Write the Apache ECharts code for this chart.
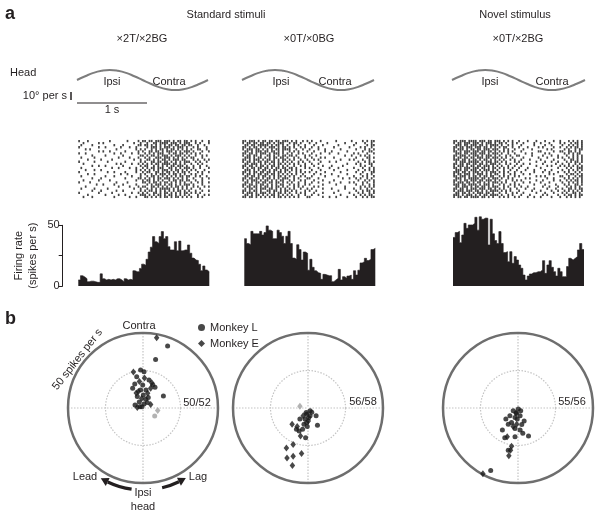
<!DOCTYPE html>
<html>
<head>
<meta charset="utf-8">
<script src="https://cdn.jsdelivr.net/npm/echarts@6/dist/echarts.min.js"></script>
<style>
html, body { margin: 0; padding: 0; background: #fff; }
#main { width: 601px; height: 519px; }
</style>
</head>
<body>
<div id="main"></div>
<script>
// panel titles
var groupTitles = ['Standard stimuli', 'Novel stimulus'];
var panelTitles = ['×2T/×2BG', '×0T/×0BG', '×0T/×2BG'];
var ratioLabels = ['50/52', '56/58', '55/56'];

// head velocity (deg/s) over one cycle
var headTime = [0, 0.125, 0.25, 0.375, 0.5, 0.625, 0.75, 0.875, 1, 1.125, 1.25, 1.375, 1.5, 1.625, 1.75, 1.875, 2];
var headVel = [0, 4.5, 8.5, 11, 12, 11, 8.5, 4.5, 0, -4.5, -8.5, -11, -12, -11, -8.5, -4.5, 0];

// firing rate histograms (spikes per s), 60 bins per cycle
var hist1 = [5, 8.5, 7.5, 6, 3.5, 4, 4, 3.5, 3, 3, 10, 6, 5, 5.5, 5, 5.5, 5, 6, 6, 5,
    3.5, 6, 5, 5.5, 5, 12.6, 11.8, 11.8, 14.5, 18, 17, 22, 28, 32, 40.7, 36.5, 35, 40.7, 44.8, 39,
    40.7, 32.4, 29.7, 29.7, 36.5, 29, 37, 29, 29.7, 29.7, 33.8, 27, 23, 21.4, 21, 17.9, 12.6, 16.5, 13.2, 11.8];
var hist2 = [39, 35, 34, 45, 43, 43, 43, 45, 42, 44, 49.5, 46, 45, 39, 39, 46, 44, 41, 35, 41,
    45, 35, 23, 22, 34, 30, 21.4, 28, 27, 13, 22, 15.4, 12.6, 11, 10.4, 5.5, 9.6, 9, 8.5, 8.5,
    3.6, 5, 6.3, 13.7, 5, 7.7, 6.3, 8.2, 9, 5.5, 12.6, 9, 13, 19, 20, 22.8, 21, 22, 30, 31];
var hist3 = [40, 44, 45, 35.7, 42, 51.6, 47.5, 50.3, 50.3, 51.6, 56.6, 46, 57, 55, 56, 55.8, 33.8, 55, 43, 37.4,
    35, 44.8, 35, 27.5, 28.3, 20, 28.3, 18.7, 24.2, 21.4, 17.3, 14.6, 9, 5, 8.2, 9.9, 11, 11, 11.8, 11.8,
    13.2, 20.9, 10.4, 17.3, 20.9, 15.4, 11.8, 8.2, 14.6, 11.8, 7.7, 7.7, 16, 22.8, 21.4, 22.8, 24.2, 29.7, 35, 30];

// spike rasters: one row per trial, x = spike in that 1/60 cycle bin
var raster1 = [
    'x...x..... ....x..... ..x....x.x x.xx.xxx.x xx.x.xx.xx .x.x..x..x',
    '..x......x .x........ .....x..x. .x..xx.xxx x.xxx.x.xx x..x.x...x',
    '.x....x... ......x... x......xx. xx.x.x.x.x .xx.xx.xx. xx..x..x..',
    'x........x ..x......x ...x..x... .x.xxx.x.x xx.x.xxx.x ..x.x...x.',
    '...x.x.... .......x.. ......x.x. x..x.x.xx. x.xx.x.x.x .x..xx..x.',
    '.........x .x..x..... .x.....x.x ..xx.xx.x. xxx.x.x.xx x.x...x..x',
    'x..x...... ......x..x ....x..x.. x.x.x.xxx. .x.xx.xx.x .x.x.x....',
    '......x... ..x....... x.......xx .x.xx.x.xx x.x.xxx.x. x..x..x.x.',
    '.x.....x.. ........x. ...x...x.. x.x..xxx.x xx.x.x.x.x .xx...x...',
    '....x..... x....x.... .....x..x. .xx.x.x.xx .x.xxx.xx. ..x.x..x.x',
    'x......x.. ...x...... .x......x. x..xx.xx.x x.x.x.x.xx x..x.x..x.',
    '..x....... .......x.x ....x..x.x .x.x.xx.xx xx.xx.x.x. .x..x.x...',
    '......x..x ..x....... x.......x. xx..x.x.x. x.xx.xxx.x ..x..x..x.',
    '.x........ .....x..x. ...x..x..x .x.xx.xxx. .xx.x.x.xx x.x..x...x',
    '...x...x.. x......... ......x.x. x.x.x.x.xx x.x.xx.x.x .x.x...x..',
    'x......... ...x..x... .x....x..x .xx..xx.x. xx.x.x.xx. x...x.x..x',
    '....x..x.. .........x ..x.....x. x..x.x.xxx .x.xx.x.x. .x.x..x...',
    '.x........ ..x...x... ....x...x. .x.xx.x.x. x.x.x.xx.x x..x.x..x.',
    '......x... x......... .x.....xx. x.x.x.xx.x xx.x.x.x.x ..x...x..x',
    '..x......x ....x..... ......x..x .xx.x.x.x. .x.xx.xx.x x..x..x...',
    'x....x.... .......x.. ..x......x x.x.xx.x.x x.x.x.x.x. .x..x.x..x',
    '........x. .x....x... x.....x... .x.x.xxx.x .xx.x.x.xx x.x...x...',
    '...x...... ........x. ...x...x.x x..xx.x.x. x.x.xx.x.x ..x.x..x.x',
    '.x.....x.. ...x...... .....x..x. .x.x.x.xxx xx.x.x.x.x .x...x....',
    '......x... x......x.. x.......x. x.xx.x.x.x .x.x.xx.x. x..x..x..x',
    'x........x .....x.... ....x..x.x .x..xx.x.x x.x.x.x.xx .x.x.x....',
    '....x..... ..x.....x. .x......xx x.x.x.xx.x .xx.x.x.x. x...x..x.x',
    '..x...x... ......x... ...x..x... xx.x.x.x.x x.x.xx.x.x .x..x.x...'
];
var raster2 = [
    'xx.xxx.x.x x.xx.xx.xx x.x.x..x.x .x...x.... ..x......x ....x.x.xx',
    'x.xx.xx.xx .xx.x.xxx. .x.xx.x... x..x....x. ......x... .x...x..x.',
    '.xx.xx.xxx xx.x.xx.x. x..x.x..x. ..x...x... ...x...... x.....x.xx',
    'xx.x.xx.x. x.xxx.x.xx .x.x..x.x. .x..x..... .x......x. ...x.x..x.',
    'x.xxx.xx.x .x.x.xx.xx xx..x..x.. x...x..x.. ....x..... .x...x.x.x',
    '.xx.x.xxx. xx.xx.x.x. .x.x.x...x ..x....x.. x......x.. ....x..xx.',
    'xx.xx.x.xx x.x.xxx.x. x.x..x.x.. .x...x...x ...x...... x.x...x..x',
    'x.xx.xx.x. .xx.x.x.xx .xx.x...x. x..x...... ......x..x ...x.x.x..',
    '.xxx.x.xx. x.x.xx.xx. x..x.x..x. .x...x.x.. .x........ .x....xx.x',
    'xx.x.xxx.x .xx.x.x.xx .x.x..x..x ..x.x..... ....x...x. x...x..x..',
    'x.xx.x.xx. xx.xx.x.x. x.x..x.x.. x....x...x ..x....... ..x..x.x.x',
    '.xx.xxx.x. x.x.x.xx.x .x.x.x..x. .x..x..... .......x.. .x.x...xx.',
    'xx.xx.x.xx .x.xx.x.x. x..x..x.x. ..x...x... x....x.... ...x.x..x.',
    'x.x.xx.xx. xx.x.xx.xx .xx.x...x. x...x....x ...x...... x...x..x.x',
    '.xxx.x.x.x x.x.xx.x.x x.x.x.x... .x...x.... .x.....x.. ..x..x.x.x',
    'xx.x.xx.xx .xx.x.xx.x .x..x.x.x. x..x...x.. ....x..... .x..x...xx',
    'x.xx.x.xx. xx.xx.x.x. x.x.x..x.. ..x..x.... x......x.. ...x..x.x.',
    '.xx.xx.x.x x.x.x.xx.x .x.x..x.x. .x.....x.. ...x...... x...x.x..x',
    'xx.xx.xx.x .xx.x.x.xx x..x.x...x x...x..... .....x..x. .x.x..x.x.',
    'x.x.xxx.x. xx.x.x.xx. .x.x..x.x. ..x...x... .x........ ..x..x.x.x',
    '.xx.x.xx.x x.xx.xx.x. x.x..x..x. .x..x....x ....x...x. x...x.x..x',
    'xx.xx.x.xx .x.x.x.xx. .x.x.x..x. x.....x... ..x....... .x..x..x.x',
    'x.xx.xx.x. xx.x.xx.x. x..x.x.x.. ..x.x..... ......x... ...x.x.x.x',
    '.x.xx.x.xx x.xx.x.x.x .x.x..x..x .x....x... x.....x... x..x..x.x.',
    'xx.x.xx.x. .xx.xx.x.x x.x.x...x. x..x...... ...x...... .x..x.xx.x',
    'x.xxx.x.xx x.x.x.xx.x .x..x.x.x. ..x...x... .x......x. ..x.x..x.x',
    '.xx.x.xx.x .x.xx.x.x. x.x..x..x. .x..x..... ....x..... x..x.x.xx.',
    'xx.xx.x.x. x.x.x.xx.x .x.x.x...x x.....x..x ..x....x.. .x..x.x.xx'
];
var raster3 = [
    'xx.xxx.xxx x.xxx.xx.x xx.x.x.x.. x...x...x. ..x...x..x ...x.x.x.x',
    'x.xx.xxx.x xx.x.xxx.x .xx.x..x.x ..x....x.. x...x....x .x..x.xx.x',
    '.xxx.xx.xx x.xx.x.xxx x.x..x.x.. .x.....x.. ..x..x.... x..x.x.x.x',
    'xx.xx.xxx. xxx.xx.x.x .x.xx..x.. x...x....x .x....x..x ..x.x.xx.x',
    'x.xxx.x.xx .xx.xxx.xx x..x.x..x. ..x...x... ...x.x.... .x.x..x.xx',
    'xx.x.xxx.x xx.xx.xx.x .x.x.x.x.. .x.......x x.....x..x x..xx.x.x.',
    '.xxx.xx.xx x.xxx.x.xx x.x..x..x. ...x..x... ..x.x..... .x.x.x.xx.',
    'xx.xxx.x.x xx.x.xxx.x .x..x.x..x x.....x... .x...x..x. ..x..x.x.x',
    'x.xx.xx.xx .xxx.xx.xx x.x.x..x.. ..x......x ...x....x. x..x.x.x.x',
    'xxx.xx.x.x x.x.xx.x.x .x.x..x.x. .x...x.... x.....x... .x..xx.x.x',
    '.x.xxx.xxx xx.x.xxx.x x.x.x...x. x.......x. ..x..x..x. ..x.x.xx.x',
    'xx.xx.xx.x x.xx.x.xxx .x..x.x..x ..x..x.... .x.....x.. x..x..x.x.',
    'x.xxx.x.xx .xx.xxx.x. x.x..x..x. .x......x. ...x.x...x .x.x.x.x.x',
    'xx.x.xxx.x xx.xx.x.xx .x.x.x.x.. x...x..... x.......x. ..x.x..xxx',
    '.xxx.xx.xx x.x.xxx.x. x..x..x..x ...x...x.. ..x..x.... x..x.x.x.x',
    'xxx.xx.x.x xx.x.x.xxx .x.x.x..x. .x.....x.. .x..x...x. .x.x..x.x.',
    'x.xx.xxx.x .xxx.x.x.x x..x..x.x. ..x..x.... ....x.x... ..x.xx.x.x',
    'xx.xxx.x.x x.x.xx.xx. .x.x.x..x. x.......x. x.x......x x..x..x.xx',
    '.xxx.x.xxx xx.xx.x.xx x.x..x.x.. ...x.x.... ...x..x... .x.x.x.x.x',
    'xx.x.xx.xx x.xx.xxx.x .x..x..x.x .x......x. .x....x..x ..x.x.xx.x',
    'x.xxx.xx.x .xx.x.x.xx x.x.x...x. ..x..x.... x...x..... x..x.x.x.x',
    'xxx.xx.xxx x.x.xxx.x. .x.x..x.x. x......x.. ..x....x.. .x.x..xx.x',
    '.xx.xxx.x. xx.xx.x.xx x..x.x..x. .x..x..... .x..x...x. ..x.x.x.x.',
    'xx.xx.x.xx x.xxx.xx.x .x.x..x..x ...x...x.. ...x...x.. x..xx.x.xx',
    'x.xxx.xxx. xx.x.x.xxx x.x.x.x... x.....x... x....x..x. .x.x.x.x.x',
    '.xx.xx.x.x .xxx.xx.x. .x..x..x.x ..x.....x. ..x...x... x.x..xx.x.',
    'xxx.x.xxx. x.x.xx.xxx x.x..x.x.. .x...x.... .x.x....x. .x.xx.x.xx',
    'x.xx.xx.xx xx.xx.x.x. .x.x.x..x. x...x..x.. x....x...x ..x.x.x.x.'
];

// preferred response vectors (spikes per s): x = lead(-)/lag(+), y = contra(+)/ipsi(-)
var monkeyL1 = [[16.4, 41.3], [8.4, 32.4], [-1.6, 25.3], [0.7, 24.2], [-4.2, 20.9], [4, 18.7], [8, 13.8],
    [-6.9, 13.1], [-1.6, 12], [2, 12], [0.2, 8.7], [-3.8, 7.6], [1.8, 5.8], [-5.3, 2], [-2, 0.9], [2.9, 3.6],
    [13.6, 8], [-0.2, 15.3], [0.7, 2.7], [-0.7, 0.9], [-5.5, 16], [6.5, 15.5], [-2.5, 4], [3.5, 7]];
var monkeyE1 = [[9.1, 46.9], [-6.4, 24], [5.8, 16.9], [-2.4, 17.6], [5.1, 13.1], [3.1, 9.8], [-0.9, 6.4],
    [-3.8, 0.4], [5.1, 2.4], [-3.1, 11], [1, 20], [-4.5, 10]];
var grayL1 = [[7.8, -5.3]];
var grayE1 = [[9.8, -1.6]];

var monkeyL2 = [[1.4, -1.8], [-0.9, -4.1], [1.4, -5.2], [5.4, -5.2], [-2, -7.4], [-5.4, -7.4], [6.3, -11.5],
    [-2.7, -10.8], [-0.5, -12.4], [-5.9, -15.3], [-3.6, -14.2], [-1.6, -19.8], [-7.7, -14.2], [2.5, -2.9],
    [-0.9, -9.7], [0.5, -6.5], [-1.2, -3]];
var monkeyE2 = [[-3.2, -5.2], [0.2, -8.6], [-10.6, -10.8], [-7.2, -12.4], [-5, -18.7], [-9.9, -24.3],
    [-14.4, -26.6], [-4.3, -30.4], [-14, -33.3], [-9.9, -32.2], [-10.4, -38.3]];
var grayL2 = [];
var grayE2 = [[-5.4, 1.1]];

var monkeyL3 = [[-3.2, -1.8], [0.2, -0.7], [1.8, -1.8], [-5.4, -5.2], [-8.1, -7.4], [-2, -6.3], [1.4, -5.2],
    [4.1, -8.6], [-4.3, -9.7], [-6.5, -10.8], [-10.4, -14.6], [-2, -13.7], [1.4, -14.6], [3.2, -16.9],
    [7, -18.7], [-8.8, -19.8], [-2, -19.1], [-6.5, -28.2], [-18.2, -41.7], [-0.5, -7.4], [-1, -3.5], [2.5, -11]];
var monkeyE3 = [[-1.4, -3.4], [-0.9, -10.8], [-7.2, -19.1], [-4.3, -25.5], [-5, -28.2], [-6.1, -31.8],
    [-23.4, -43.9], [-3.2, -12.4]];
var grayL3 = [];
var grayE3 = [];

var FONT = '"Liberation Sans", Arial, Helvetica, sans-serif';
var INK = '#231f20';

var headLeft = [77, 242, 452], headWidth = [131, 132, 133];
var rasterLeft = [78, 242, 453], rasterWidth = [132, 133, 130];
var histLeft = [78.3, 244.3, 453], histWidth = [131, 131, 131];
var histMax = [50, 50, 60];
var histScale = 1.214; // px per spike/s
var polarX = [143, 308, 518], polarY = 408, polarR = 75;

var hists = [hist1, hist2, hist3];
var rasters = [raster1, raster2, raster3];
var dotsL = [monkeyL1, monkeyL2, monkeyL3];
var dotsE = [monkeyE1, monkeyE2, monkeyE3];
var grayL = [grayL1, grayL2, grayL3];
var grayE = [grayE1, grayE2, grayE3];

function parseRaster(rows) {
    var pts = [];
    rows.forEach(function (r, row) {
        var s = r.replace(/ /g, '');
        for (var c = 0; c < s.length; c++) {
            if (s[c] === 'x') pts.push([c, row]);
        }
    });
    return pts;
}

// bin k covers [k, k+1]; last value repeated to close the final step
function histSteps(h) {
    var d = h.map(function (v, k) { return [k, v]; });
    d.push([h.length, h[h.length - 1]]);
    return d;
}

var grid = [], xAxis = [], yAxis = [], series = [];
var polar = [], angleAxis = [], radiusAxis = [];

for (var p = 0; p < 3; p++) {
    // head velocity trace
    grid.push({ left: headLeft[p], width: headWidth[p], top: 70, height: 20 });
    xAxis.push({ type: 'value', gridIndex: grid.length - 1, min: 0, max: 2, show: false });
    yAxis.push({ type: 'value', gridIndex: grid.length - 1, min: -12, max: 12, show: false });
    series.push({
        type: 'line', xAxisIndex: grid.length - 1, yAxisIndex: grid.length - 1,
        data: headTime.map(function (t, k) { return [t, headVel[k]]; }),
        smooth: true, showSymbol: false, silent: true,
        lineStyle: { color: '#7d7d7d', width: 2 }
    });
}
for (var p = 0; p < 3; p++) {
    // raster
    grid.push({ left: rasterLeft[p], width: rasterWidth[p], top: 140, height: 58 });
    xAxis.push({ type: 'value', gridIndex: grid.length - 1, min: -0.5, max: 59.5, show: false });
    yAxis.push({ type: 'value', gridIndex: grid.length - 1, min: -0.5, max: 27.5, inverse: true, show: false });
    series.push({
        type: 'scatter', xAxisIndex: grid.length - 1, yAxisIndex: grid.length - 1,
        data: parseRaster(rasters[p]), symbol: 'rect', symbolSize: [1.7, 2.3], silent: true,
        itemStyle: { color: '#141414' }
    });
}
for (var p = 0; p < 3; p++) {
    // histogram
    var histTop = 286 - histMax[p] * histScale;
    grid.push({ left: histLeft[p], width: histWidth[p], top: histTop, height: 286 - histTop });
    xAxis.push({ type: 'value', gridIndex: grid.length - 1, min: 0, max: hists[p].length, show: false });
    var ya = { type: 'value', gridIndex: grid.length - 1, min: 0, max: histMax[p], show: false };
    if (p === 0) {
        ya = {
            type: 'value', gridIndex: grid.length - 1, min: 0, max: 50, interval: 25,
            position: 'left', offset: 15.6,
            axisLine: { show: true, onZero: false, lineStyle: { color: INK, width: 1 } },
            axisTick: { show: true, length: 4, lineStyle: { color: INK } },
            axisLabel: {
                margin: 3, color: INK, fontSize: 11, fontFamily: FONT,
                formatter: function (v) { return v === 25 ? '' : v; }
            },
            splitLine: { show: false },
            name: 'Firing rate\n(spikes per s)', nameLocation: 'middle', nameRotate: 90, nameGap: 23,
            nameTextStyle: { color: INK, fontSize: 11, fontFamily: FONT, lineHeight: 14 }
        };
    }
    yAxis.push(ya);
    series.push({
        type: 'line', xAxisIndex: grid.length - 1, yAxisIndex: grid.length - 1,
        data: histSteps(hists[p]), step: 'end', showSymbol: false, silent: true,
        lineStyle: { color: INK, width: 0.6 },
        areaStyle: { color: INK, opacity: 1 }
    });
}
for (var p = 0; p < 3; p++) {
    // polar frame
    polar.push({ center: [polarX[p], polarY], radius: polarR });
    angleAxis.push({
        polarIndex: p, type: 'value', min: 0, max: 360, interval: 90, startAngle: 90,
        axisLine: { show: true, lineStyle: { color: '#6e6e6e', width: 2.5 } },
        axisTick: { show: false }, axisLabel: { show: false },
        splitLine: { show: true, lineStyle: { color: '#c4c4c4', width: 1.2, type: [1.5, 1.5] } }
    });
    radiusAxis.push({
        polarIndex: p, type: 'value', min: 0, max: 50, interval: 25,
        axisLine: { show: false }, axisTick: { show: false }, axisLabel: { show: false },
        splitLine: { show: true, lineStyle: { color: ['#c4c4c4', '#c4c4c4', 'rgba(0,0,0,0)'], width: 1.2, type: [1.5, 1.5] } }
    });
    // response vectors
    grid.push({ left: polarX[p] - polarR, top: polarY - polarR, width: 2 * polarR, height: 2 * polarR });
    xAxis.push({ type: 'value', gridIndex: grid.length - 1, min: -50, max: 50, show: false });
    yAxis.push({ type: 'value', gridIndex: grid.length - 1, min: -50, max: 50, show: false });
    var gi = grid.length - 1;
    series.push({
        name: 'gray', type: 'scatter', xAxisIndex: gi, yAxisIndex: gi, data: grayL[p],
        symbol: 'circle', symbolSize: 5, itemStyle: { color: '#a0a0a0' }, silent: true
    });
    series.push({
        name: 'gray', type: 'scatter', xAxisIndex: gi, yAxisIndex: gi, data: grayE[p],
        symbol: 'diamond', symbolSize: [5.5, 7], itemStyle: { color: '#a0a0a0' }, silent: true
    });
    series.push({
        name: 'Monkey L', type: 'scatter', xAxisIndex: gi, yAxisIndex: gi, data: dotsL[p],
        symbol: 'circle', symbolSize: 5, itemStyle: { color: '#1a1a1a' }, silent: true
    });
    series.push({
        name: 'Monkey E', type: 'scatter', xAxisIndex: gi, yAxisIndex: gi, data: dotsE[p],
        symbol: 'diamond', symbolSize: [5.5, 7], itemStyle: { color: '#1a1a1a' }, silent: true
    });
}

function txt(s, x, y, opt) {
    opt = opt || {};
    return {
        type: 'text', x: x, y: y, rotation: opt.rot || 0, silent: true,
        style: {
            text: s, fill: INK,
            font: (opt.weight || 'normal') + ' ' + (opt.size || 11) + 'px ' + FONT,
            textAlign: opt.align || 'center', textVerticalAlign: 'middle'
        }
    };
}

// curved arrow along a circle (angles in degrees, canvas orientation)
function arcArrow(cx, cy, r, a0, a1, tip) {
    var rad = Math.PI / 180;
    var t = tip * rad, b = a1 * rad;
    var tx = cx + r * Math.cos(t), ty = cy + r * Math.sin(t);
    var bx = cx + r * Math.cos(b), by = cy + r * Math.sin(b);
    var nx = Math.cos(b), ny = Math.sin(b);
    return [
        {
            type: 'arc', silent: true,
            shape: { cx: cx, cy: cy, r: r, startAngle: Math.min(a0, a1) * rad, endAngle: Math.max(a0, a1) * rad, clockwise: true },
            style: { stroke: INK, lineWidth: 3.2, fill: null }
        },
        {
            type: 'polygon', silent: true,
            shape: { points: [[tx, ty], [bx + nx * 4.5, by + ny * 4.5], [bx - nx * 4.5, by - ny * 4.5]] },
            style: { fill: INK }
        }
    ];
}

var graphic = [
    txt('a', 5, 14, { size: 18, weight: 'bold', align: 'left' }),
    txt(groupTitles[0], 226, 15),
    txt(groupTitles[1], 515, 15),
    txt(panelTitles[0], 142, 39),
    txt(panelTitles[1], 309, 39),
    txt(panelTitles[2], 518, 39),
    txt('Head', 10, 73, { align: 'left' }),
    txt('10° per s', 67, 96, { align: 'right' }),
    txt('Ipsi', 112, 82), txt('Contra', 169, 82),
    txt('Ipsi', 281, 82), txt('Contra', 335, 82),
    txt('Ipsi', 490, 82), txt('Contra', 552, 82),
    txt('1 s', 112, 110),
    {
        type: 'line', silent: true, shape: { x1: 71, y1: 92, x2: 71, y2: 100 },
        style: { stroke: INK, lineWidth: 1.5 }
    },
    {
        type: 'line', silent: true, shape: { x1: 77, y1: 103, x2: 147, y2: 103 },
        style: { stroke: INK, lineWidth: 1.2 }
    },
    txt('b', 5, 319, { size: 18, weight: 'bold', align: 'left' }),
    txt('Contra', 139, 326),
    txt('50 spikes per s', 77.5, 359.5, { rot: 52 * Math.PI / 180 }),
    txt(ratioLabels[0], 197, 403),
    txt(ratioLabels[1], 363, 402),
    txt(ratioLabels[2], 572, 402),
    txt('Lead', 85, 477), txt('Lag', 198, 477),
    txt('Ipsi', 143, 493), txt('head', 143, 507)
].concat(arcArrow(143, 408, 82, 98, 115.5, 121)).concat(arcArrow(143, 408, 82, 76.5, 64, 58.5));

var chart = echarts.init(document.getElementById('main'));
chart.setOption({
    animation: false,
    backgroundColor: '#fff',
    legend: {
        data: [{ name: 'Monkey L', icon: 'circle' }, { name: 'Monkey E', icon: 'diamond' }],
        orient: 'vertical', left: 198, top: 322, padding: 0,
        itemWidth: 7, itemHeight: 7, itemGap: 5, selectedMode: false,
        textStyle: { color: INK, fontSize: 11, fontFamily: FONT }
    },
    grid: grid, xAxis: xAxis, yAxis: yAxis,
    polar: polar, angleAxis: angleAxis, radiusAxis: radiusAxis,
    graphic: graphic,
    series: series
});
</script>
</body>
</html>
